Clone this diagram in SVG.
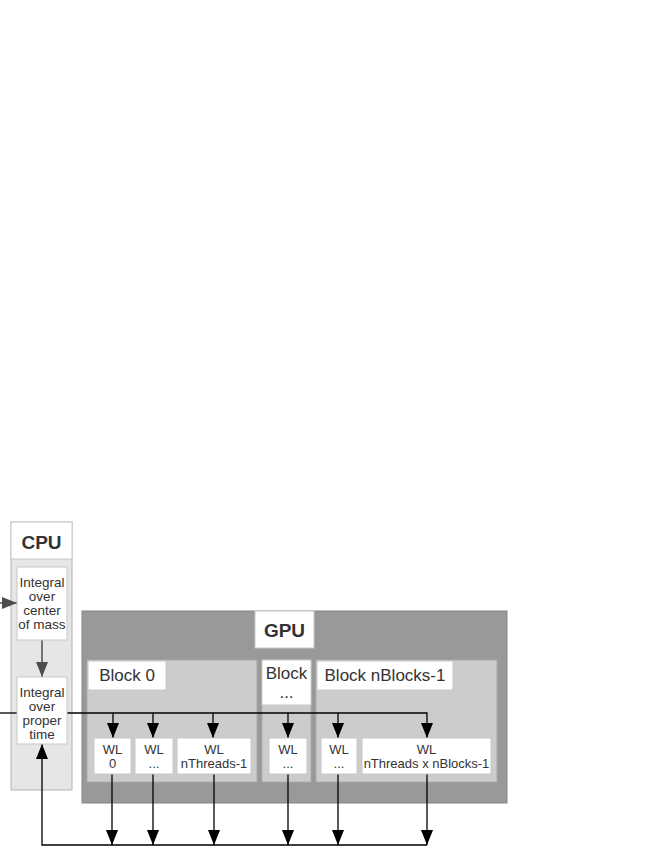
<svg xmlns="http://www.w3.org/2000/svg" width="654" height="846" viewBox="0 0 654 846">
<defs>
<style>
text{font-family:"Liberation Sans",Arial,sans-serif;fill:#333;text-anchor:middle}
.cpu{fill:#e6e6e6;stroke:#b3b3b3;stroke-width:1}
.gpu{fill:#999;stroke:#858585;stroke-width:1}
.blk{fill:#ccc;stroke:#aaa;stroke-width:1}
.wh{fill:#fff;stroke:#c8c8c8;stroke-width:1}
.hd{font-weight:bold;font-size:19px}
.bl{font-size:17px}
.sm{font-size:13.5px}
.wl{font-size:13px}
.c{fill:none;stroke:#000;stroke-width:1.3}
.g{fill:none;stroke:#4d4d4d;stroke-width:1.5}
</style>
<marker id="ah" viewBox="0 0 15 12" markerUnits="userSpaceOnUse" markerWidth="15" markerHeight="12" refX="15" refY="6" orient="auto"><path d="M0,0 L15,6 L0,12 z" fill="#000"/></marker>
<marker id="ahg" viewBox="0 0 15 12" markerUnits="userSpaceOnUse" markerWidth="15" markerHeight="12" refX="15" refY="6" orient="auto"><path d="M0,0 L15,6 L0,12 z" fill="#4d4d4d"/></marker>
</defs>
<g id="cpu">
<rect class="cpu" x="11" y="522" width="61" height="268"/>
<rect class="wh" x="11" y="522" width="61" height="37"/>
<text class="hd" x="41.5" y="549">CPU</text>
</g>
<g id="gpu">
<rect class="gpu" x="82" y="611" width="425" height="192"/>
<rect class="wh" x="255" y="611" width="59" height="37" stroke="none"/>
<text class="hd" x="284.5" y="637">GPU</text>
</g>
<g id="block0">
<rect class="blk" x="87" y="660" width="170" height="122"/>
<rect class="wh" x="88" y="661" width="78" height="29"/>
<text class="bl" x="127" y="681">Block 0</text>
</g>
<g id="blockmid">
<rect class="blk" x="262" y="660" width="49" height="122"/>
<rect class="wh" x="262" y="660" width="49" height="45"/>
<text class="bl" x="286.5" y="679">Block</text>
<text class="bl" x="286.5" y="698">...</text>
</g>
<g id="blockn">
<rect class="blk" x="316" y="660" width="181" height="122"/>
<rect class="wh" x="317" y="661" width="136" height="29"/>
<text class="bl" x="385" y="681">Block nBlocks-1</text>
</g>
<g id="connectors">
<line class="g" x1="0" y1="603" x2="17" y2="603" marker-end="url(#ahg)"/>
<line class="g" x1="42" y1="640" x2="42" y2="677" marker-end="url(#ahg)"/>
<line class="c" x1="0" y1="713" x2="17" y2="713"/>
<polyline class="c" points="67,713 427,713 427,738" marker-end="url(#ah)"/>
<line class="c" x1="113" y1="713" x2="113" y2="738" marker-end="url(#ah)"/>
<line class="c" x1="153" y1="713" x2="153" y2="738" marker-end="url(#ah)"/>
<line class="c" x1="213" y1="713" x2="213" y2="738" marker-end="url(#ah)"/>
<line class="c" x1="288" y1="713" x2="288" y2="738" marker-end="url(#ah)"/>
<line class="c" x1="338" y1="713" x2="338" y2="738" marker-end="url(#ah)"/>
<line class="c" x1="112" y1="774" x2="112" y2="845" marker-end="url(#ah)"/>
<line class="c" x1="153" y1="774" x2="153" y2="845" marker-end="url(#ah)"/>
<line class="c" x1="214" y1="774" x2="214" y2="845" marker-end="url(#ah)"/>
<line class="c" x1="288" y1="774" x2="288" y2="845" marker-end="url(#ah)"/>
<line class="c" x1="338" y1="774" x2="338" y2="845" marker-end="url(#ah)"/>
<line class="c" x1="427" y1="774" x2="427" y2="845" marker-end="url(#ah)"/>
<polyline class="c" points="427,845 42,845 42,744" marker-end="url(#ah)"/>
</g>
<g id="int-cm">
<rect class="wh" x="17" y="567" width="50" height="73"/>
<text class="sm" x="42" y="587">Integral</text>
<text class="sm" x="42" y="601">over</text>
<text class="sm" x="42" y="615">center</text>
<text class="sm" x="42" y="629">of mass</text>
</g>
<g id="int-pt">
<rect class="wh" x="17" y="677" width="50" height="67"/>
<text class="sm" x="42" y="697">Integral</text>
<text class="sm" x="42" y="711">over</text>
<text class="sm" x="42" y="725">proper</text>
<text class="sm" x="42" y="739">time</text>
</g>
<g id="wl0">
<rect class="wh" x="94" y="738" width="37" height="36"/>
<text class="wl" x="112.5" y="754">WL</text>
<text class="wl" x="112.5" y="768">0</text>
</g>
<g id="wl1">
<rect class="wh" x="135" y="738" width="38" height="36"/>
<text class="wl" x="154" y="754">WL</text>
<text class="wl" x="154" y="768">...</text>
</g>
<g id="wl2">
<rect class="wh" x="177" y="738" width="74" height="36"/>
<text class="wl" x="214" y="754">WL</text>
<text class="wl" x="214" y="768">nThreads-1</text>
</g>
<g id="wl3">
<rect class="wh" x="269" y="738" width="38" height="36"/>
<text class="wl" x="288" y="754">WL</text>
<text class="wl" x="288" y="768">...</text>
</g>
<g id="wl4">
<rect class="wh" x="321" y="738" width="36" height="36"/>
<text class="wl" x="339" y="754">WL</text>
<text class="wl" x="339" y="768">...</text>
</g>
<g id="wl5">
<rect class="wh" x="362" y="738" width="129" height="36"/>
<text class="wl" x="426.5" y="754">WL</text>
<text class="wl" x="426.5" y="768">nThreads x nBlocks-1</text>
</g>
</svg>
